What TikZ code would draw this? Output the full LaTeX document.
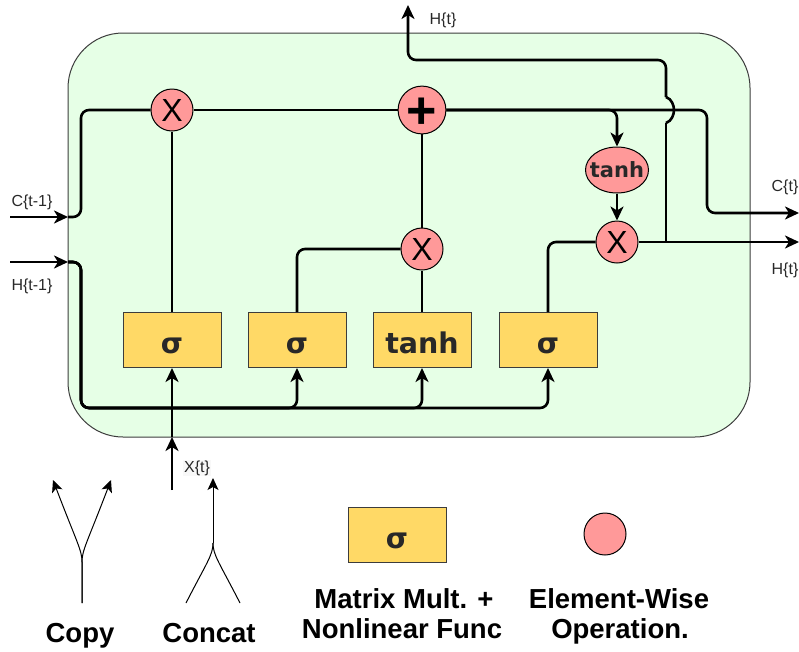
\documentclass[tikz,border=0pt]{standalone}
\usepackage{fontspec}
\setmainfont{Liberation Sans}
\newfontfamily\djfont{DejaVu Sans}
\usetikzlibrary{arrows.meta,shapes.geometric}
\definecolor{cellfill}{RGB}{230,255,230}
\definecolor{gatefill}{RGB}{255,217,102}
\definecolor{opfill}{RGB}{255,153,153}
\definecolor{txtdark}{RGB}{40,40,40}
\definecolor{bordergray}{RGB}{60,60,60}
\definecolor{lblbg}{RGB}{248,248,248}
\begin{document}
\begin{tikzpicture}[x=1pt,y=-1pt,
  wire/.style={line width=2.6pt, line join=round},
  arr/.style={wire, -{Stealth[length=14pt,width=13pt,inset=4pt]}},
  gate/.style={draw=bordergray, line width=1pt, fill=gatefill, minimum width=98pt, minimum height=55pt, inner sep=0pt, text=txtdark, text height=26pt, text depth=0pt, font=\djfont\bfseries\fontsize{28.5}{32}\selectfont},
  op/.style={circle, draw=black, line width=1pt, fill=opfill, minimum size=42pt, inner sep=0pt, font=\fontsize{32}{36}\selectfont},
  lbl/.style={font=\fontsize{16}{18}\selectfont, inner sep=0pt, text=txtdark},
  legtxt/.style={font=\bfseries\fontsize{27.5}{30}\selectfont, inner sep=0pt, anchor=base},
  thinarr/.style={line width=1pt, -{Stealth[length=12pt,width=11pt,inset=3pt]}},
  thinline/.style={line width=1pt}]
\useasboundingbox (0,0) rectangle (799,651);

% cell
\node[draw=bordergray, fill=cellfill, line width=1pt, rounded corners=55pt, minimum width=682pt, minimum height=404pt, inner sep=0pt] (cell) at (409,235) {};

% gates
\node[gate] (g1) at (172,340) {σ};
\node[gate] (g2) at (297,340) {σ};
\node[gate] (g3) at (422,340) {tanh};
\node[gate] (g4) at (548,340) {σ};

% pointwise ops
\node[op] (m1) at (172,110) {X};
\node[op, font=\bfseries\fontsize{52}{52}\selectfont, text height=37pt, text depth=0pt] (p) at (422,110) {+};
\node[op] (m2) at (422,249) {X};
\node[op] (m3) at (617,242) {X};
\node[ellipse, draw=black, line width=1pt, fill=opfill, minimum width=63pt, minimum height=46pt, inner sep=0pt, text=txtdark, font=\djfont\bfseries\fontsize{21}{24}\selectfont] (th) at (617,170) {\makebox[0pt][c]{tanh}};

% coordinates
\coordinate (cin) at (10,217);
\coordinate (cb) at (68,217);
\coordinate (hin) at (10,262);
\coordinate (hb) at (68,262);
\coordinate (cout) at (799,213);
\coordinate (hout) at (799,242);
\coordinate (hj) at (666,242);
\coordinate (jlo) at (666,123);
\coordinate (jhi) at (666,97);
\coordinate (htop) at (408,5);
\coordinate (xin) at (172,490);
\coordinate (xb) at (172,437);

% cell state
\draw[arr] (cin) -- (cb);
\draw[wire, rounded corners=8pt] (cb) -- (81,217) -- (81,110) -- (m1);
\draw[wire] (m1) -- (p);
\draw[arr, rounded corners=8pt] (p) -- (707,110) -- (707,213) -- (cout);
\draw[arr, rounded corners=8pt] (p) -| (th);
\draw[arr] (th) -- (m3);
\draw[arr] (m3) -- (hout);
\draw[wire] (hj) -- (jlo);
\draw[wire] (jlo) .. controls (672,121) and (674,114) .. (674,110) .. controls (674,106) and (672,99) .. (jhi);
\draw[arr, rounded corners=8pt] (jhi) -- (666,60) -- (408,60) -- (htop);

% gate outputs
\draw[wire] (g1) -- (m1);
\draw[wire, rounded corners=8pt] (g2) |- (m2);
\draw[wire] (g3) -- (m2);
\draw[wire] (m2) -- (p);
\draw[wire, rounded corners=8pt] (g4) |- (m3);

% hidden input
\draw[arr] (hin) -- (hb);
\foreach \g in {g2,g3,g4}
  \draw[arr, rounded corners=8pt] (hb) -- (81,262) -- (81,408) -| (\g);

% x input
\draw[arr] (xin) -- (xb);
\draw[arr] (xb) -- (g1);

% labels
\node[lbl] (lc0) at (32,202) {C\{t-1\}};
\node[lbl] (lh0) at (32,286) {H\{t-1\}};
\node[lbl] (lc1) at (785,187) {C\{t\}};
\node[lbl] (lh1) at (785,270) {H\{t\}};
\node[lbl] (lh2) at (443,20) {H\{t\}};
\node[lbl, fill=lblbg, inner sep=1pt] (lx) at (197,468) {X\{t\}};

% legend: copy
\coordinate (cpb) at (82,603);
\coordinate (cps) at (82,562);
\coordinate (cpl) at (53,480);
\coordinate (cpr) at (111,480);
\draw[thinarr] (cpb) -- (cps) .. controls (82,550) and (77,543) .. (cpl);
\draw[thinarr] (cpb) -- (cps) .. controls (82,550) and (87,543) .. (cpr);

% legend: concat
\coordinate (ccs) at (213,543);
\coordinate (cct) at (213,478);
\coordinate (ccl) at (186,603);
\coordinate (ccr) at (240,603);
\draw[thinarr] (ccs) -- (cct);
\draw[thinline] (ccs) .. controls (213,555) and (207,562) .. (ccl);
\draw[thinline] (ccs) .. controls (213,555) and (219,562) .. (ccr);

% legend: gate and op
\node[gate] (lg) at (397,535) {σ};
\node[op] (lo) at (605,534) {};

% legend texts
\node[legtxt] (tcopy) at (80,642) {Copy};
\node[legtxt] (tconcat) at (209,642) {Concat};
\node[legtxt] (tmm1) at (404,608) {Matrix Mult. +};
\node[legtxt] (tmm2) at (402,638) {Nonlinear Func};
\node[legtxt] (tew1) at (619,608) {Element-Wise};
\node[legtxt] (tew2) at (620,638) {Operation.};
\end{tikzpicture}
\end{document}
